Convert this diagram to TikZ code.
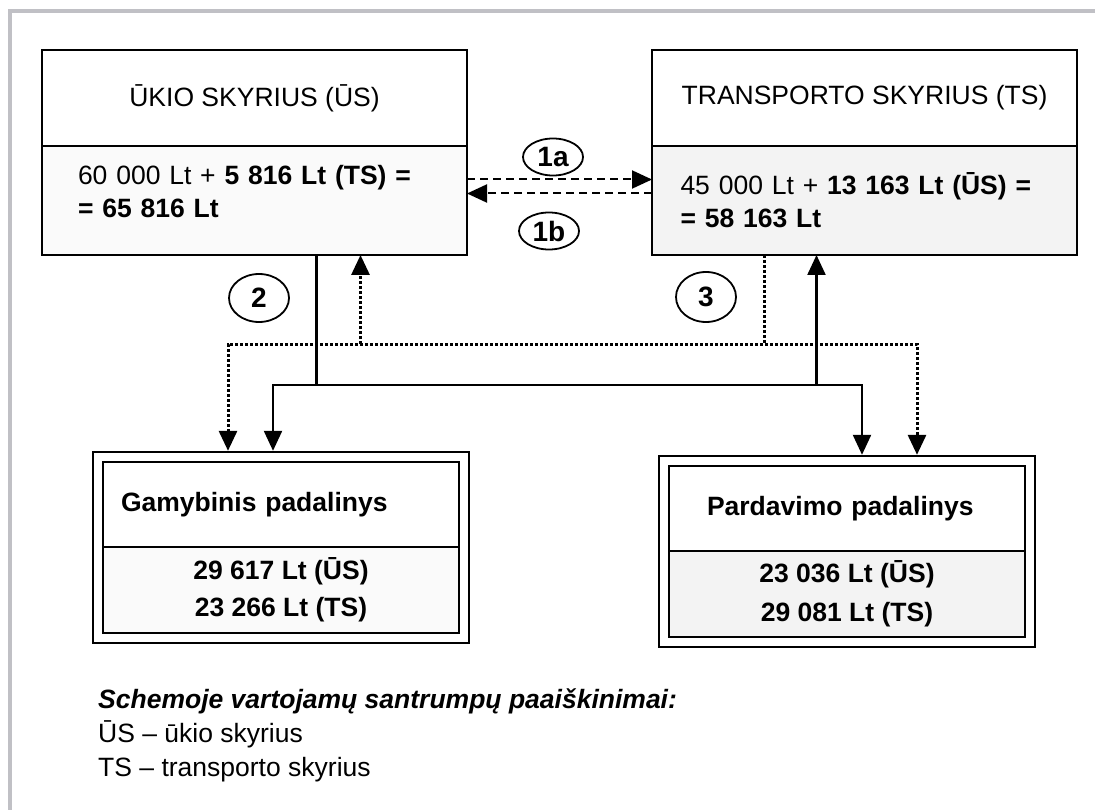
\documentclass[tikz,border=0pt]{standalone}
\usepackage{fontspec}
\setmainfont{Liberation Sans}
\usepackage{tikz}
\usetikzlibrary{positioning,fit,shapes.geometric,arrows.meta}
\definecolor{framegray}{RGB}{192,192,197}
\definecolor{lightfill}{RGB}{250,250,250}
\definecolor{greyfill}{RGB}{243,243,243}
\newcommand{\diagsize}{\fontsize{26.5}{33}\selectfont}
\newcommand{\badgesize}{\fontsize{28}{33}\selectfont}
\tikzstyle{Head}=[rectangle, draw=black, line width=2.6pt, outer sep=0pt, inner sep=0pt, minimum width=425pt, minimum height=96pt, align=center, font=\diagsize]
\tikzstyle{Body}=[rectangle, draw=black, line width=2.6pt, outer sep=0pt, inner sep=0pt, minimum width=425pt, minimum height=109pt, align=left, font=\diagsize]
\tikzstyle{Unit}=[rectangle, draw=black, line width=2.6pt, outer sep=0pt, inner sep=0pt, minimum width=356pt, font=\diagsize\bfseries]
\tikzstyle{Frame}=[rectangle, draw=black, line width=2.4pt, inner sep=10pt]
\tikzstyle{Badge}=[ellipse, draw=black, line width=1.8pt, minimum width=60pt, minimum height=37pt, inner sep=0pt, font=\badgesize\bfseries]
\tikzstyle{Mutual}=[line width=2pt, dash pattern=on 8pt off 5pt]
\tikzstyle{UsLine}=[line width=2.3pt]
\tikzstyle{TsLine}=[line width=3pt, dash pattern=on 3pt off 2pt]

\begin{document}
\begin{tikzpicture}[x=1pt, y=-1pt, >={Triangle[length=20pt,width=18pt]}]
    \useasboundingbox (0,0) rectangle (1095,810);
    \fill[framegray] (8,9) rectangle (1095,13);
    \fill[framegray] (8,9) rectangle (12,810);

    \path
    (42,50) node[Head, anchor=north west] (ushead) {ŪKIO SKYRIUS (ŪS)}
    (652,50) node[Head, anchor=north west] (tshead) {TRANSPORTO SKYRIUS (TS)};
    \node[Body, fill=lightfill, text width=353pt, below=0pt of ushead] (usbody) {60 000 Lt + \textbf{5 816 Lt (TS) =}\\ \textbf{= 65 816 Lt}\\[-14pt]\mbox{}};
    \node[Body, fill=greyfill, text width=368pt, below=0pt of tshead] (tsbody) {45 000 Lt + \textbf{13 163 Lt (ŪS) =}\\ \textbf{= 58 163 Lt}};

    \path
    (103,462) node[Unit, anchor=north west, minimum height=85pt, text width=320pt, align=left] (gamhead) {Gamybinis padalinys}
    (669,466) node[Unit, anchor=north west, minimum height=85pt, text width=280pt, align=left] (parhead) {Pardavimo padalinys};
    \node[Unit, fill=lightfill, minimum height=86pt, align=center, below=0pt of gamhead] (gambody) {29 617 Lt (ŪS)\\[4pt] 23 266 Lt (TS)};
    \node[Unit, fill=greyfill, minimum height=86pt, align=center, below=0pt of parhead] (parbody) {23 036 Lt (ŪS)\\[6pt] 29 081 Lt (TS)};
    \node[Frame, fit=(gamhead)(gambody)] (gam) {};
    \node[Frame, fit=(parhead)(parbody)] (par) {};

    \path
    (553,157) node[Badge] (oneA) {1a}
    (549,231) node[Badge] (oneB) {1b}
    (259,298) node[Badge, minimum height=48pt] (two) {2}
    (706,297) node[Badge, minimum height=50pt] (three) {3};

    \coordinate (usbus) at (560,385);
    \coordinate (tsbus) at (560,344);

    \draw[Mutual, ->] ([yshift=21pt]usbody.east) -- ([yshift=21pt]tsbody.west);
    \draw[Mutual, ->] ([yshift=7pt]tsbody.west) -- ([yshift=7pt]usbody.east);

    \draw[UsLine] ([xshift=62pt]usbody.south) -- ([xshift=62pt]usbody.south |- usbus);
    \draw[UsLine, <->] ([xshift=-8pt]gam.north) |- (usbus) -| ([xshift=15pt]par.north);
    \draw[UsLine, ->] ([xshift=-48pt]tsbody.south |- usbus) -- ([xshift=-48pt]tsbody.south);

    \draw[TsLine] ([xshift=-100pt]tsbody.south) -- ([xshift=-100pt]tsbody.south |- tsbus);
    \draw[TsLine, <->] ([xshift=-53pt]gam.north) |- (tsbus) -| ([xshift=70pt]par.north);
    \draw[TsLine, ->] ([xshift=106pt]usbody.south |- tsbus) -- ([xshift=106pt]usbody.south);

    \path (98,689) node[anchor=north west, align=left, inner sep=0pt, font=\fontsize{26.5}{34}\selectfont] (legend) {\textbf{\textit{Schemoje vartojamų santrumpų paaiškinimai:}}\\ ŪS – ūkio skyrius\\ TS – transporto skyrius};
\end{tikzpicture}
\end{document}
